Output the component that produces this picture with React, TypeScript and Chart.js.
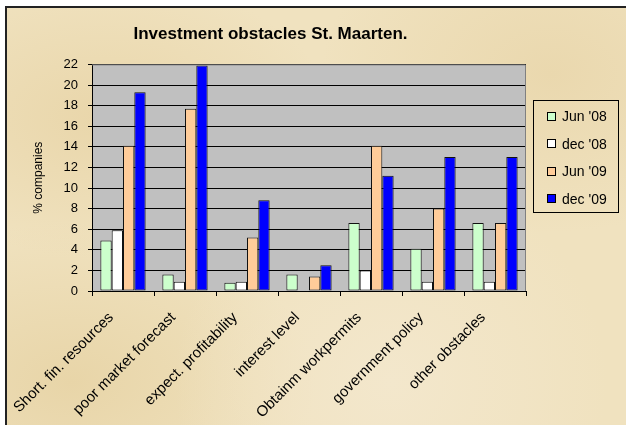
import React, { useEffect, useRef } from "react";
import { Chart, registerables } from "chart.js";

Chart.register(...registerables);

const categories = [
  "Short. fin. resources",
  "poor market forecast",
  "expect. profitability",
  "interest level",
  "Obtainm workpermits",
  "government policy",
  "other obstacles",
];
const seriesNames = ["Jun '08", "dec '08", "Jun '09", "dec '09"];
const jun08 = [4.9, 1.6, 0.8, 1.6, 6.6, 4.1, 6.6];
const dec08 = [5.9, 0.9, 0.9, 0, 2.0, 0.9, 0.9];
const jun09 = [14.1, 17.7, 5.2, 1.4, 14.1, 8.0, 6.6];
const dec09 = [19.3, 21.9, 8.8, 2.5, 11.2, 13.0, 13.0];
const seriesColors = ["#CCFFCC", "#FFFFFF", "#FFCC99", "#0000FF"];
const yMax = 22;
const yStep = 2;

const FONT = "'Liberation Sans', Arial, sans-serif";
const PARCHMENT = "#F0E2BF";

const plotBg = {
  id: "plotBg",
  beforeDraw(chart: any) {
    const { ctx, chartArea } = chart;
    if (!chartArea) return;
    ctx.save();
    ctx.fillStyle = "#C0C0C0";
    ctx.fillRect(chartArea.left, chartArea.top, chartArea.right - chartArea.left, chartArea.bottom - chartArea.top);
    ctx.restore();
  },
  afterDatasetsDraw(chart: any) {
    const { ctx, chartArea } = chart;
    ctx.save();
    ctx.strokeStyle = "#808080";
    ctx.lineWidth = 1;
    ctx.beginPath();
    ctx.moveTo(chartArea.left, chartArea.top + 0.5);
    ctx.lineTo(chartArea.right - 0.5, chartArea.top + 0.5);
    ctx.lineTo(chartArea.right - 0.5, chartArea.bottom);
    ctx.stroke();
    ctx.restore();
  },
};

export default function App() {
  const ref = useRef<HTMLCanvasElement | null>(null);
  useEffect(() => {
    if (!ref.current) return;
    const data = [jun08, dec08, jun09, dec09];
    const chart = new Chart(ref.current, {
      type: "bar",
      data: {
        labels: categories,
        datasets: seriesNames.map((n, i) => ({
          label: n,
          data: data[i],
          backgroundColor: seriesColors[i],
          borderColor: "#111111",
          borderWidth: 1,
          borderSkipped: false,
          barPercentage: 1,
          categoryPercentage: 0.73,
        })),
      },
      options: {
        animation: false,
        responsive: false,
        layout: { padding: { left: 15, right: 100, top: 0, bottom: 0 } },
        plugins: {
          legend: { display: false },
          tooltip: { enabled: false },
          title: {
            display: true,
            text: "Investment obstacles St. Maarten.",
            color: "#000",
            font: { family: FONT, size: 17, weight: "bold" },
            padding: { top: 24, bottom: 20 },
          },
        },
        scales: {
          x: {
            grid: {
              offset: true,
              drawOnChartArea: false,
              drawTicks: true,
              tickLength: 5,
              color: "#000",
            },
            border: { color: "#000", width: 1 },
            ticks: {
              color: "#000",
              font: { family: FONT, size: 15 },
              minRotation: 45,
              maxRotation: 45,
              autoSkip: false,
              padding: 1,
              callback: (_v: any, i: number) => categories[i] + "    ",
            },
            afterFit(scale: any) {
              scale.height = 134;
            },
          },
          y: {
            min: 0,
            max: yMax,
            ticks: {
              stepSize: yStep,
              color: "#000",
              font: { family: FONT, size: 13 },
              padding: 10,
            },
            grid: { color: "#000", tickLength: 4, drawTicks: true },
            border: { color: "#000", width: 1 },
            title: {
              display: true,
              text: "% companies",
              color: "#000",
              font: { family: FONT, size: 12 },
              padding: { top: 16, bottom: 0 },
            },
            afterFit(scale: any) {
              scale.width = 77;
            },
          },
        },
      },
      plugins: [plotBg],
    });
    return () => chart.destroy();
  }, []);

  return (
    <div style={{ position: "fixed", left: 0, top: 0, width: 626, height: 425, background: "#FFFFFF", overflow: "hidden" }}>
      <div
        style={{
          position: "absolute",
          left: 5,
          top: 6,
          width: 640,
          height: 440,
          borderTop: "2px solid #222",
          borderLeft: "2px solid #222",
          background: `radial-gradient(ellipse at 15% 25%, #E9D6AA 0%, rgba(0,0,0,0) 30%), radial-gradient(ellipse at 85% 15%, #EAD8AE 0%, rgba(0,0,0,0) 30%), radial-gradient(ellipse at 60% 85%, #F3E7CC 0%, rgba(0,0,0,0) 40%), radial-gradient(ellipse at 10% 85%, #E8D5A8 0%, rgba(0,0,0,0) 30%), ${PARCHMENT}`,
        }}
      />
      <canvas ref={ref} width={626} height={425} style={{ position: "absolute", left: 0, top: 0 }} />
      <div
        style={{
          position: "absolute",
          left: 533,
          top: 100,
          width: 86,
          height: 113,
          border: "1px solid #000",
          boxSizing: "border-box",
          fontFamily: FONT,
          fontSize: 14,
          color: "#000",
        }}
      >
        {seriesNames.map((n, i) => (
          <div key={n} style={{ position: "absolute", left: 13, top: 7 + i * 27.5, height: 16, display: "flex", alignItems: "center", whiteSpace: "nowrap" }}>
            <span style={{ display: "inline-block", width: 7, height: 7, border: "1px solid #000", background: seriesColors[i], marginRight: 6 }} />
            <span>{n}</span>
          </div>
        ))}
      </div>
    </div>
  );
}
